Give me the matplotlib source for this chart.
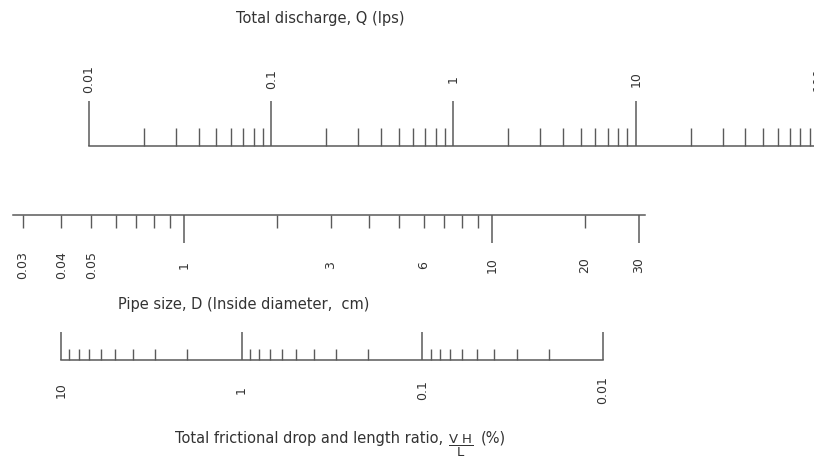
import matplotlib
matplotlib.use('Agg')
import matplotlib.pyplot as plt
from matplotlib.ticker import FixedLocator, NullFormatter

plt.rcParams['font.family'] = ['DejaVu Sans']
plt.rcParams['mathtext.fontset'] = 'dejavusans'

# 刻度数据
q_major = [0.01, 0.1, 1, 10, 100]
q_minor = [m * d for d in (0.01, 0.1, 1, 10) for m in range(2, 10)]
q_labels = ['0.01', '0.1', '1', '10', '100']

d_major = [1, 10, 30]
d_minor = [0.3, 0.4, 0.5, 0.6, 0.7, 0.8, 0.9, 2, 3, 4, 5, 6, 7, 8, 9, 20]
d_label_vals = [0.3, 0.4, 0.5, 1, 3, 6, 10, 20, 30]
d_labels = ['0.03', '0.04', '0.05', '1', '3', '6', '10', '20', '30']

h_major = [10, 1, 0.1, 0.01]
h_minor = [m * d for d in (0.01, 0.1, 1) for m in range(2, 10)]
h_labels = ['10', '1', '0.1', '0.01']

W, H = 814, 462
line_c = '#5a5a5a'
text_c = '#333333'
fs = 9          # 刻度文字
fs_t = 10.5     # 标题文字


def px_axes(left, right, y_line, height, top_spine=False):
    # 像素坐标 -> figure 坐标
    if top_spine:
        rect = [left / W, 1 - (y_line + height) / H, (right - left) / W, height / H]
    else:
        rect = [left / W, 1 - y_line / H, (right - left) / W, height / H]
    ax = fig.add_axes(rect)
    ax.patch.set_visible(False)
    for s in ax.spines.values():
        s.set_visible(False)
    ax.set_xscale('log')
    ax.set_yticks([])
    ax.xaxis.set_major_formatter(NullFormatter())
    ax.xaxis.set_minor_formatter(NullFormatter())
    return ax


def style(ax, major, minor, maj_len, min_len, where):
    sp = ax.spines[where]
    sp.set_visible(True)
    sp.set_color(line_c)
    sp.set_linewidth(1.1)
    ax.xaxis.set_major_locator(FixedLocator(major))
    ax.xaxis.set_minor_locator(FixedLocator(minor))
    if where == 'top':
        ax.xaxis.tick_top()
    ax.tick_params(axis='x', which='major', direction='in', length=maj_len * 0.72,
                   width=1.1, color=line_c)
    ax.tick_params(axis='x', which='minor', direction='in', length=min_len * 0.72,
                   width=1.0, color=line_c)


fig = plt.figure(figsize=(W / 100, H / 100), dpi=100)

# 流量 Q
ax1 = px_axes(89, 818, 146, 50)
ax1.set_xlim(0.01, 100)
style(ax1, q_major, q_minor, 45, 18, 'bottom')
for v, t in zip(q_major, q_labels):
    ax1.text(v, (146 - 79) / 50, t, rotation=90, ha='center', va='center',
             fontsize=fs, color=text_c, transform=ax1.get_xaxis_transform())
fig.text(320 / W, 1 - 19 / H, 'Total discharge, Q (lps)', ha='center', va='center',
         fontsize=fs_t, color=text_c)

# 管径 D
ax2 = px_axes(13, 645, 215, 30, top_spine=True)
ax2.set_xlim(0.2786, 31.4)
style(ax2, d_major, d_minor, 28, 13, 'top')
for v, t in zip(d_label_vals, d_labels):
    ax2.text(v, 1 - (265 - 215) / 30, t, rotation=90, ha='center', va='center',
             fontsize=fs, color=text_c, transform=ax2.get_xaxis_transform())
fig.text(244 / W, 1 - 304 / H, 'Pipe size, D (Inside diameter,  cm)', ha='center',
         va='center', fontsize=fs_t, color=text_c)

# 水头损失比 H/L
ax3 = px_axes(61, 603, 360, 30)
ax3.set_xlim(10, 0.01)
style(ax3, h_major, h_minor, 28, 11, 'bottom')
for v, t in zip(h_major, h_labels):
    ax3.text(v, -(390 - 360) / 30, t, rotation=90, ha='center', va='center',
             fontsize=fs, color=text_c, transform=ax3.get_xaxis_transform())
fig.text(443 / W, 1 - 438 / H, 'Total frictional drop and length ratio,', ha='right',
         va='center', fontsize=fs_t, color=text_c)
fig.text(461 / W, 1 - 446 / H, r'$\dfrac{\mathrm{V\ H}}{\mathrm{L}}$', ha='center',
         va='center', fontsize=9.5, color=text_c)
fig.text(493 / W, 1 - 438 / H, '(%)', ha='center', va='center', fontsize=fs_t,
         color=text_c)

fig.savefig('out.png', dpi=100)
